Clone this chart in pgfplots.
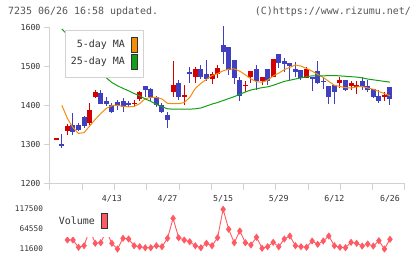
\documentclass[border=0pt]{standalone}
\usepackage{fontspec}
\setmonofont{DejaVu Sans Mono}
\usepackage{pgfplots}
\pgfplotsset{compat=1.18}
\usepackage{pgfplotstable}
\definecolor{cred}{RGB}{210,0,0}
\definecolor{cblue}{RGB}{64,64,191}
\definecolor{ma5}{RGB}{245,140,10}
\definecolor{ma25}{RGB}{20,160,20}
\definecolor{vol}{RGB}{255,90,100}
\definecolor{axisgray}{RGB}{210,210,210}
\definecolor{txt}{RGB}{51,51,51}
\definecolor{ttl}{RGB}{85,85,85}
\pgfplotstableread{
k o h l c
0 1312 1316 1312 1316
2 1333 1353 1325 1348
6 1355 1406 1350 1389
7 1422 1439 1418 1435
14 1404 1414 1398 1407
15 1416 1437 1411 1434
21 1433 1512 1422 1452
23 1422 1452 1401 1426
25 1471 1499 1458 1493
28 1468 1485 1455 1480
29 1480 1503 1469 1496
34 1450 1461 1435 1453
35 1473 1488 1457 1488
37 1463 1473 1452 1471
39 1473 1518 1473 1518
45 1469 1499 1469 1493
51 1458 1473 1444 1465
53 1448 1463 1440 1458
54 1446 1461 1428 1452
59 1422 1433 1411 1427
}\up
\pgfplotstableread{
k o h l c
1 1302 1327 1292 1295
3 1349 1381 1325 1332
4 1350 1355 1335 1338
5 1370 1372 1342 1346
8 1432 1439 1403 1404
9 1410 1421 1398 1403
10 1401 1405 1380 1383
11 1409 1414 1389 1397
12 1410 1419 1383 1395
13 1405 1412 1396 1401
16 1448 1449 1420 1440
17 1441 1444 1410 1420
18 1421 1424 1395 1401
19 1401 1405 1380 1382
20 1374 1384 1342 1363
22 1458 1465 1414 1422
24 1486 1498 1457 1480
26 1493 1503 1468 1473
27 1480 1516 1461 1468
30 1554 1603 1505 1535
31 1549 1549 1477 1489
32 1516 1516 1455 1469
33 1465 1473 1411 1424
36 1493 1503 1439 1462
38 1493 1493 1452 1461
40 1531 1531 1496 1509
41 1513 1520 1485 1506
42 1507 1507 1462 1501
43 1493 1510 1473 1485
44 1490 1490 1465 1469
46 1471 1471 1437 1467
47 1488 1513 1454 1458
48 1462 1469 1441 1460
49 1450 1450 1403 1422
50 1451 1451 1403 1435
52 1465 1465 1436 1438
55 1461 1472 1439 1446
56 1448 1465 1435 1440
57 1441 1441 1418 1421
58 1424 1440 1406 1412
60 1446 1446 1400 1417
}\down
\pgfplotstableread{
k ma5 ma25
1 1400 1595
2 1366 1580
3 1343 1564
4 1328 1548
5 1330 1533
6 1347 1517
7 1364 1502
8 1379 1486
9 1392 1470
10 1399 1458
11 1400 1450
12 1397 1443
13 1396 1437
14 1397 1430
15 1404 1424
16 1417 1416
17 1420 1410
18 1420 1402
19 1416 1396
20 1405 1391
21 1404 1390
22 1404 1390
23 1407 1390
24 1420 1390
25 1443 1391
26 1456 1393
27 1466 1398
28 1476 1403
29 1481 1407
30 1488 1412
31 1492 1417
32 1493 1422
33 1487 1428
34 1478 1434
35 1467 1439
36 1460 1442
37 1459 1445
38 1464 1447
39 1475 1451
40 1482 1456
41 1491 1461
42 1497 1464
43 1503 1467
44 1500 1470
45 1494 1473
46 1487 1475
47 1479 1475
48 1471 1475
49 1461 1476
50 1451 1476
51 1448 1475
52 1445 1474
53 1444 1473
54 1447 1472
55 1448 1470
56 1444 1467
57 1441 1465
58 1435 1463
59 1430 1461
60 1424 1459
}\ma
\pgfplotstableread{
k v
2 35400
3 35400
4 16100
5 20300
6 63200
7 26700
8 28300
9 57900
10 26700
11 11600
12 39900
13 38100
14 20300
15 17700
16 15000
17 15000
18 20300
19 17700
20 39900
21 92900
22 41500
23 35400
24 30900
25 20300
26 15000
27 26700
28 20300
29 41500
30 116700
31 63800
32 28300
33 59300
34 28300
35 22200
36 42600
37 13500
38 17700
39 29300
40 17700
41 38100
42 46000
43 20300
44 17700
45 16100
46 32800
47 24000
48 32800
49 46000
50 20300
51 16100
52 15000
53 29300
54 26700
55 19500
56 24800
57 19500
58 33600
59 11600
60 37300
}\volume
\pgfplotsset{
  candle/.style 2 args={only marks, mark=none, mark size=0pt,
    mark options={draw opacity=0, fill opacity=0},
    error bars/.cd, y dir=both, y explicit, error mark=none,
    error bar style={line width=#2, #1, solid}},
}
\begin{document}
\begin{tikzpicture}
\path[use as bounding box] (0bp,0bp) rectangle (420bp,-259bp);
\begin{axis}[
  at={(50bp,-183.5bp)}, anchor=south west, scale only axis,
  width=355bp, height=156.5bp,
  xmin=-1.13, xmax=62.7, ymin=1200, ymax=1600,
  clip=false,
  axis x line=bottom, axis y line=left,
  axis line style={draw=axisgray, line width=1bp, -},
  tick style={draw=axisgray, line width=1bp},
  tick align=outside, major tick length=6bp,
  ytick={1200,1300,1400,1500,1600},
  xtick={-1.13,4.67,10.48,16.28,22.08,27.89,33.69,39.49,45.29,51.10,56.90,62.70},
  xticklabels={},
  extra x ticks={10,20,30,40,50,60},
  extra x tick labels={4/13,4/27,5/15,5/29,6/12,6/26},
  extra x tick style={major tick length=0pt, xticklabel style={yshift=-8bp}},
  /pgf/number format/assume math mode=true,
  /pgf/number format/1000 sep={},
  ticklabel style={font=\ttfamily\fontsize{8.3}{9}\selectfont, text=txt},
]
\addplot[candle={cred}{1bp}]
  table[x=k, y expr=(\thisrow{h}+\thisrow{l})/2, y error expr=(\thisrow{h}-\thisrow{l})/2] {\up};
\addplot[candle={cred}{5bp}]
  table[x=k, y expr=(\thisrow{o}+\thisrow{c})/2, y error expr=abs(\thisrow{c}-\thisrow{o})/2] {\up};
\addplot[candle={cblue}{1bp}]
  table[x=k, y expr=(\thisrow{h}+\thisrow{l})/2, y error expr=(\thisrow{h}-\thisrow{l})/2] {\down};
\addplot[candle={cblue}{5bp}]
  table[x=k, y expr=(\thisrow{o}+\thisrow{c})/2, y error expr=abs(\thisrow{c}-\thisrow{o})/2] {\down};
\addplot[ma5, line width=1bp, mark=none] table[x=k, y=ma5] {\ma};
\addplot[ma25, line width=1bp, mark=none] table[x=k, y=ma25] {\ma};
\end{axis}
\begin{axis}[
  at={(50bp,-249bp)}, anchor=south west, scale only axis,
  width=355bp, height=40bp,
  xmin=-1.13, xmax=62.7, ymin=11600, ymax=117500,
  clip=false,
  axis lines*=left, axis line style={draw=none},
  xtick=\empty,
  ytick={11600,64550,117500},
  yticklabels={11600,64550,117500},
  scaled y ticks=false,
  major tick length=0pt, tick style={draw=none},
  yticklabel style={font=\ttfamily\fontsize{7.8}{9}\selectfont, text=txt, xshift=-3.5bp},
]
\addplot[vol, line width=0.9bp, mark=diamond*, mark size=2.9bp, mark options={solid, fill=vol, draw=vol}]
  table[x=k, y=v] {\volume};
\end{axis}
% title texts
\node[anchor=west, inner sep=0, font=\ttfamily\fontsize{10}{12}\selectfont, text=ttl] at (8bp,-12bp) {7235 06/26 16:58 updated.};
\node[anchor=east, inner sep=0, font=\ttfamily\fontsize{10}{12}\selectfont, text=ttl] at (411bp,-12bp) {(C)https://www.rizumu.net/};
% price legend
\draw[axisgray, fill=white, line width=1bp] (65bp,-30bp) rectangle (143bp,-77bp);
\node[anchor=east, inner sep=0, font=\ttfamily\fontsize{10}{12}\selectfont, text=txt] at (125bp,-45bp) {5-day MA};
\node[anchor=east, inner sep=0, font=\ttfamily\fontsize{10}{12}\selectfont, text=txt] at (125bp,-61.5bp) {25-day MA};
\draw[fill=ma5, draw=txt, line width=0.8bp] (131bp,-37.5bp) rectangle (137bp,-52bp);
\draw[fill=ma25, draw=txt, line width=0.8bp] (131bp,-54.5bp) rectangle (137bp,-69bp);
% volume legend
\fill[white] (52bp,-203bp) rectangle (111bp,-236.5bp);
\node[anchor=east, inner sep=0, font=\ttfamily\fontsize{10}{12}\selectfont, text=txt] at (95bp,-221bp) {Volume};
\draw[fill=vol, draw=txt, line width=0.8bp] (101.5bp,-213.5bp) rectangle (107.5bp,-228bp);
\end{tikzpicture}
\end{document}
